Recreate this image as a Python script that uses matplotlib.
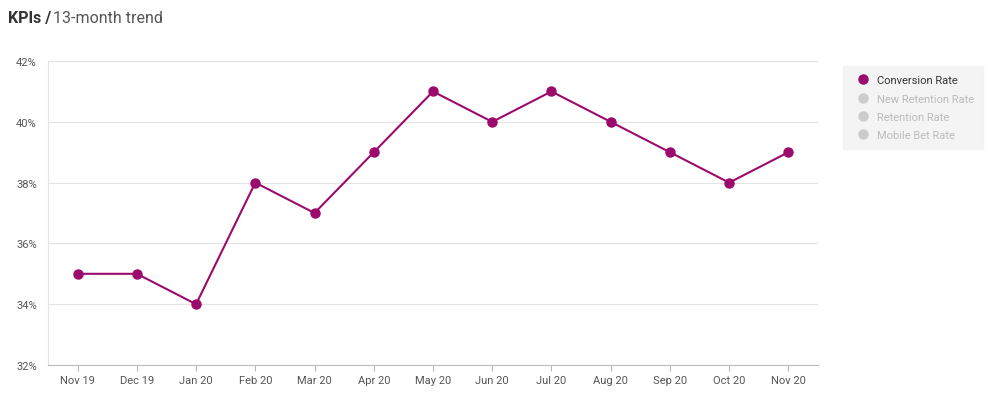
import matplotlib.pyplot as plt
from matplotlib.lines import Line2D

plt.rcParams['font.family'] = ['Roboto', 'DejaVu Sans']

months = ['Nov 19', 'Dec 19', 'Jan 20', 'Feb 20', 'Mar 20', 'Apr 20', 'May 20',
          'Jun 20', 'Jul 20', 'Aug 20', 'Sep 20', 'Oct 20', 'Nov 20']
conversion = [35, 35, 34, 38, 37, 39, 41, 40, 41, 40, 39, 38, 39]
series_names = ['Conversion Rate', 'New Retention Rate', 'Retention Rate', 'Mobile Bet Rate']

color = '#9b0a6c'
fig = plt.figure(figsize=(10, 4.02), dpi=100)
ax = fig.add_axes([0.048, 0.0896, 0.77, 0.756])
x = range(len(months))
ax.plot(x, conversion, color=color, lw=1.5, marker='o', ms=6.5, zorder=3)

ax.set_xlim(-0.5, 12.5)
ax.set_ylim(32, 42)
ax.set_yticks(range(32, 43, 2))
ax.set_yticklabels([f'{v}%' for v in range(32, 43, 2)])
ax.set_xticks(list(x))
ax.set_xticklabels(months)
ax.grid(axis='y', color='#e3e3e3', lw=0.8)
for s in ['top', 'right']:
    ax.spines[s].set_visible(False)
ax.spines['left'].set_color('#e3e3e3')
ax.spines['bottom'].set_color('#bbbbbb')
ax.tick_params(axis='y', length=0, labelsize=8, labelcolor='#555555', pad=8)
ax.tick_params(axis='x', length=4, color='#bbbbbb', labelsize=8, labelcolor='#555555')

handles = [Line2D([], [], ls='', marker='o', ms=6.5, color=color)] + \
          [Line2D([], [], ls='', marker='o', ms=6.5, color='#cccccc') for _ in series_names[1:]]
leg = fig.legend(handles, series_names, loc='upper left', bbox_to_anchor=(0.837, 0.846),
                 frameon=True, fontsize=8, handletextpad=0.3, labelspacing=0.75,
                 borderpad=0.8, fancybox=False)
leg.get_frame().set_facecolor('#f2f2f2')
leg.get_frame().set_edgecolor('#f2f2f2')
for i, t in enumerate(leg.get_texts()):
    t.set_color('#333333' if i == 0 else '#bbbbbb')

fig.text(0.008, 0.955, 'KPIs /', fontsize=11.5, fontweight='bold', color='#333333', va='center')
fig.text(0.053, 0.955, '13-month trend', fontsize=11.5, color='#555555', va='center')

fig.savefig('out.png', dpi=100)
